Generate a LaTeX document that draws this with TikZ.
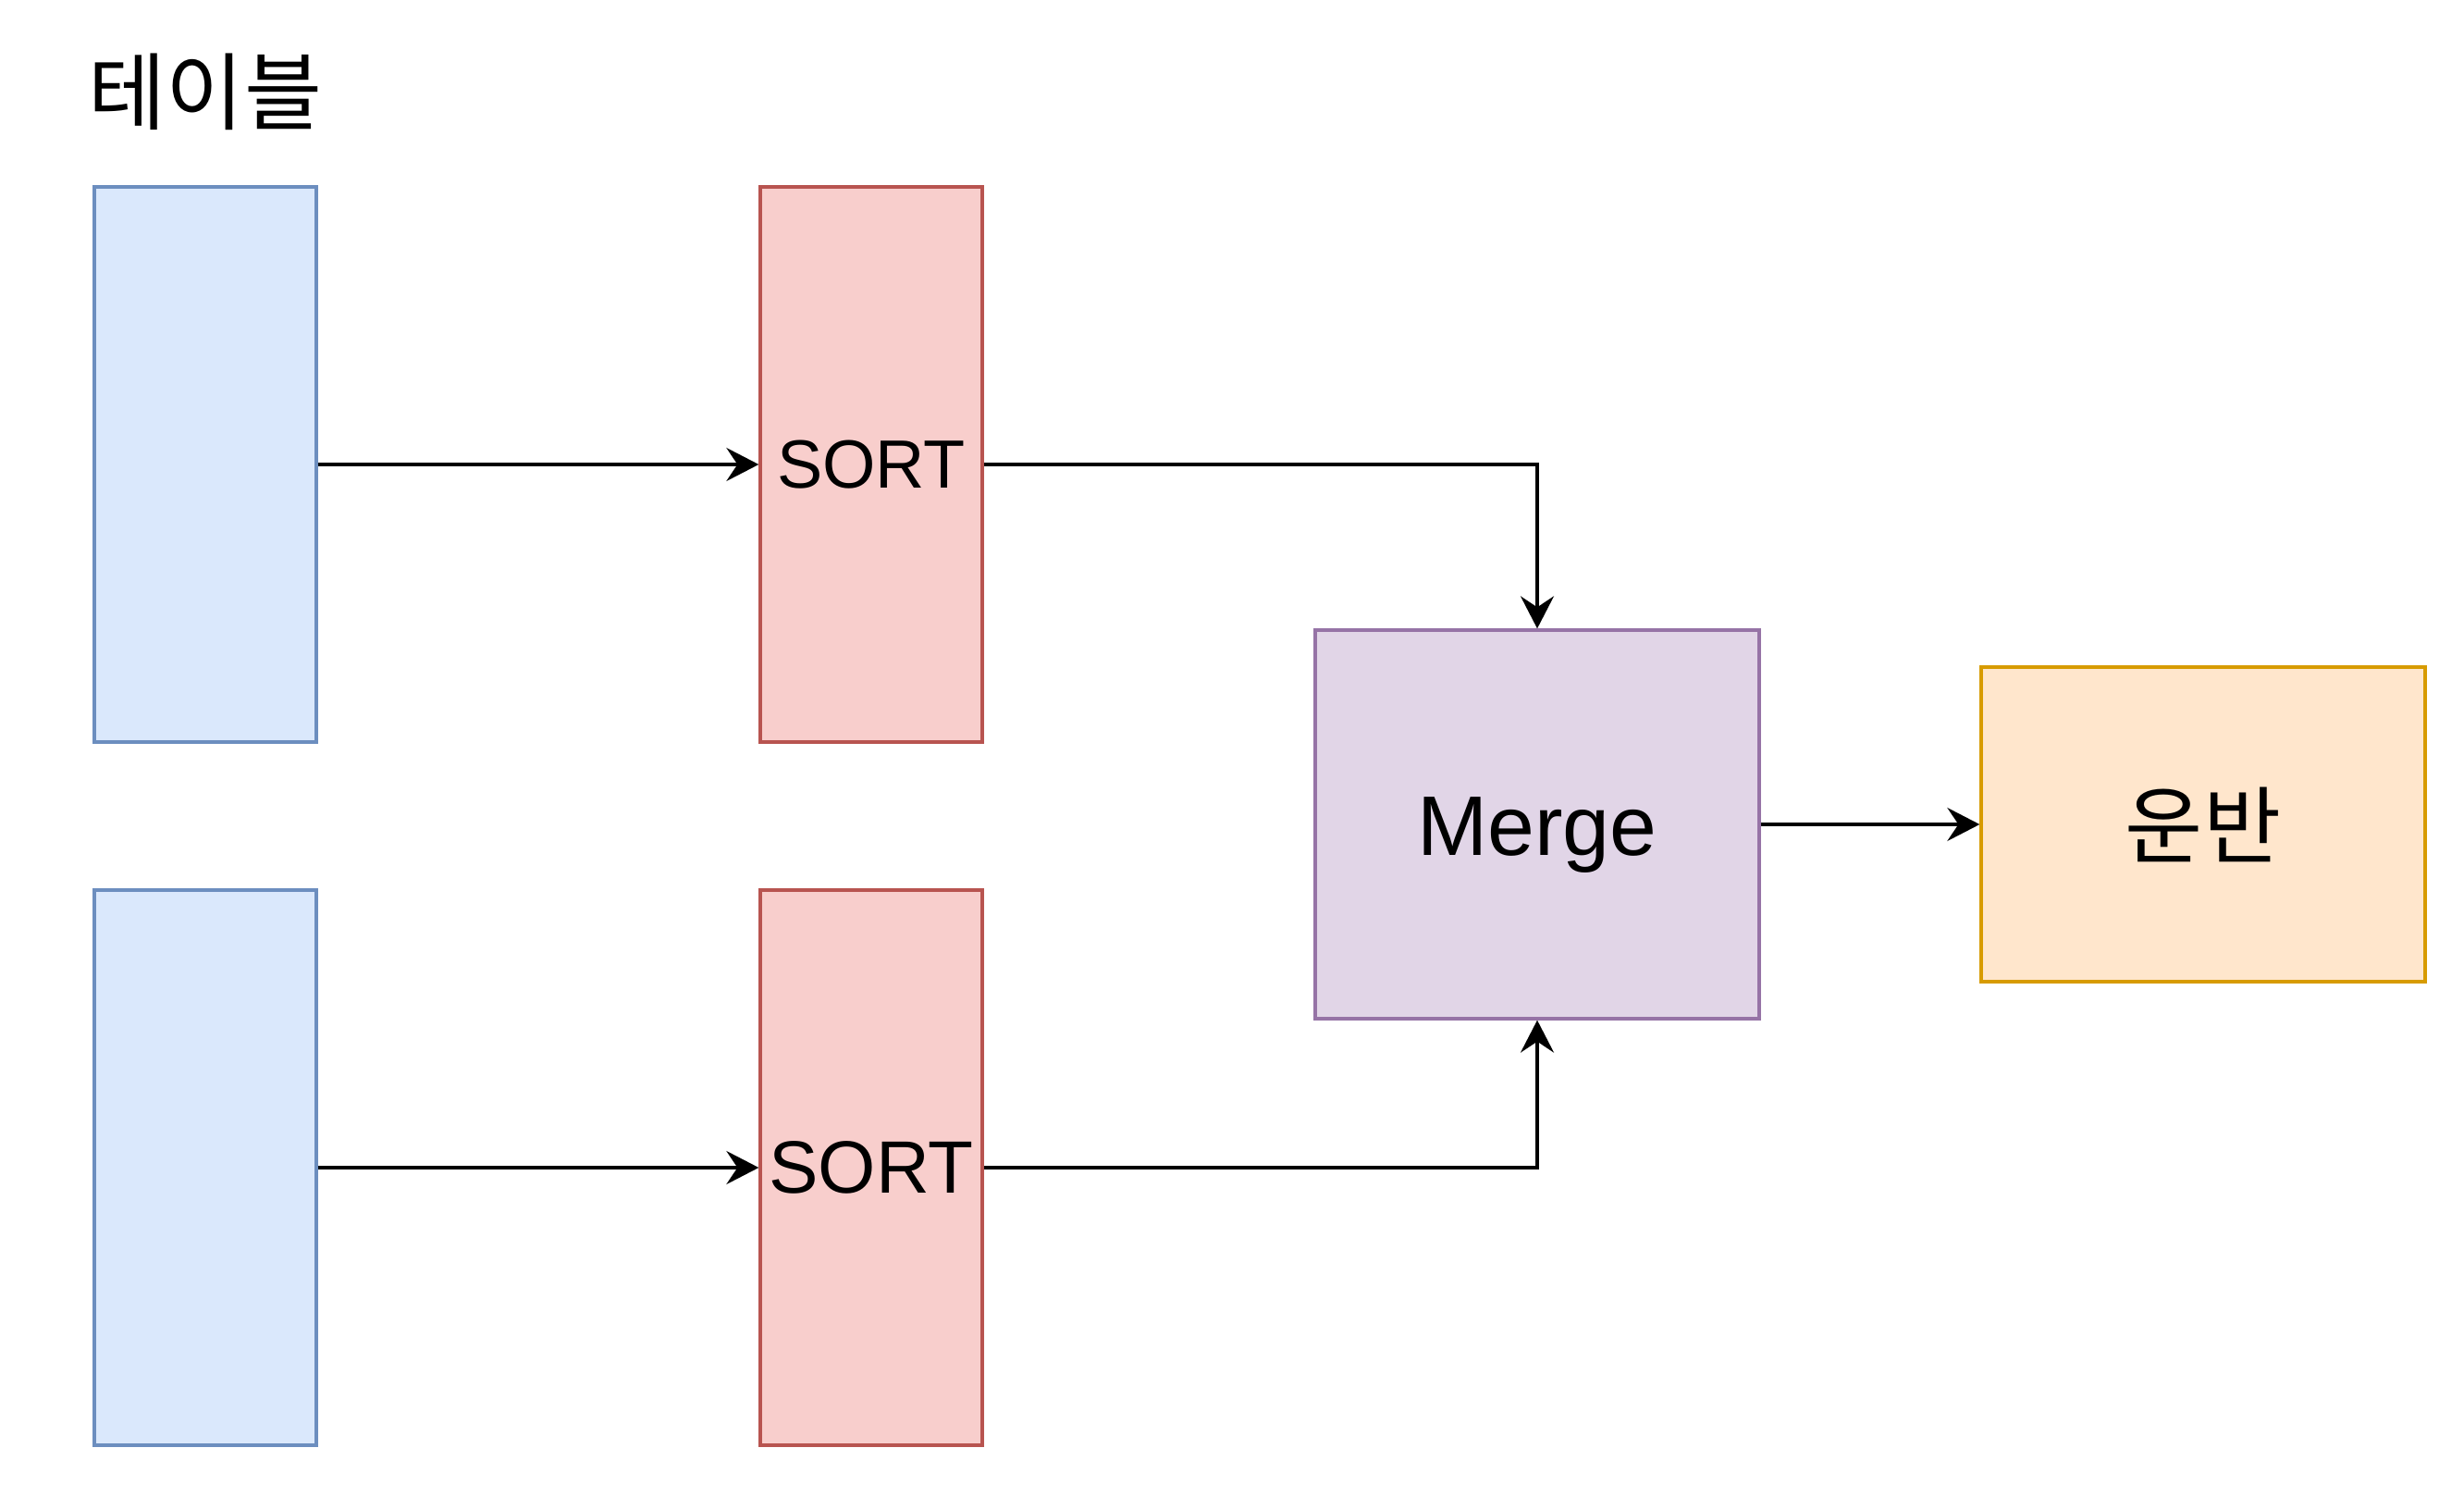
\documentclass[tikz,border=0pt]{standalone}
\usepackage{fontspec}
\setmainfont{Liberation Sans}
\newfontfamily\kofont{Noto Sans CJK KR}
\usepackage{tikz}
\usetikzlibrary{arrows.meta, positioning}
\usepackage{xcolor}
\definecolor{tblfill}{HTML}{DAE8FC}
\definecolor{tbldraw}{HTML}{6C8EBF}
\definecolor{sortfill}{HTML}{F8CECC}
\definecolor{sortdraw}{HTML}{B85450}
\definecolor{mergefill}{HTML}{E1D5E7}
\definecolor{mergedraw}{HTML}{9673A6}
\definecolor{outfill}{HTML}{FFE6CC}
\definecolor{outdraw}{HTML}{D79B00}

\begin{document}
\begin{tikzpicture}[
    box/.style={rectangle, draw, line width=0.033cm, inner sep=0pt},
    flow/.style={-{Stealth[length=3.5mm, width=3.6mm, inset=1.2mm]}, line width=0.033cm}
]
    \useasboundingbox (0,0) rectangle (26.64,16.04);
    % Title
    \node (title) at (2.22,15.05) {\kofont\fontsize{26}{30}\selectfont 테이블};
    % Tables and sorts
    \foreach \n/\y/\s in {a/11.02/21, b/3.42/22.8} {
        \node[box, fill=tblfill, draw=tbldraw, minimum width=2.4cm, minimum height=6cm] (tbl\n) at (2.22,\y) {};
        \node[box, fill=sortfill, draw=sortdraw, minimum width=2.4cm, minimum height=6cm,
              font=\fontsize{\s}{\s}\selectfont] (sort\n) at (9.42,\y) {SORT};
        \draw[flow] (tbl\n.east) -- (sort\n.west);
    }
    % Merge and result
    \node[box, fill=mergefill, draw=mergedraw, minimum width=4.8cm, minimum height=4.2cm,
          text height=0.66cm, text depth=0pt, font=\fontsize{26}{30}\selectfont] (merge) at (16.62,7.13) {Merge};
    \node[box, fill=outfill, draw=outdraw, minimum width=4.8cm, minimum height=3.4cm,
          font=\kofont\fontsize{26}{30}\selectfont] (result) at (23.82,7.13) {운반};
    % Connections
    \draw[flow] (sorta.east) -| (merge.north);
    \draw[flow] (sortb.east) -| (merge.south);
    \draw[flow] (merge.east) -- (result.west);
\end{tikzpicture}
\end{document}
